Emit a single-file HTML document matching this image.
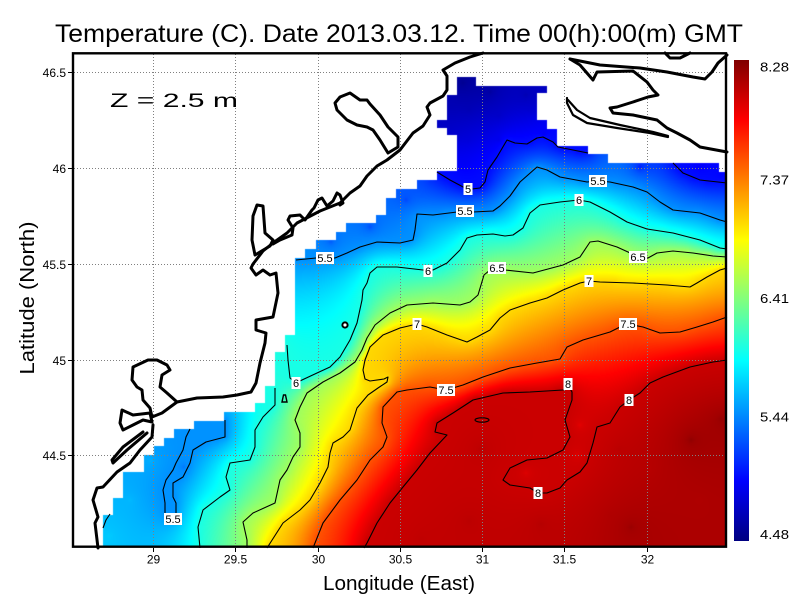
<!DOCTYPE html>
<html><head><meta charset="utf-8">
<style>
html,body{margin:0;padding:0;background:#fff;}
#wrap{position:relative;width:800px;height:600px;overflow:hidden;background:#fff;}
#fb,#ov{position:absolute;left:0;top:0;}
#cv{position:absolute;left:73px;top:53px;}
</style></head><body>
<div id="wrap">
<svg id="fb" width="800" height="600" viewBox="0 0 800 600">
<defs><linearGradient id="fbg" gradientUnits="userSpaceOnUse" x1="300" y1="120" x2="650" y2="520">
<stop offset="0" stop-color="#0040ff"/><stop offset="0.3" stop-color="#00e0ff"/><stop offset="0.5" stop-color="#ffff00"/><stop offset="0.7" stop-color="#ff3000"/><stop offset="1" stop-color="#a00000"/></linearGradient></defs>
<polygon fill="url(#fbg)" points="457,77 476,77 476,86 547,86 547,93 537,93 537,120 547,120 547,129 557,129 557,146 588,146 588,154 608,154 608,163 719,163 719,172 726,172 726,547 103,547 103,515 113,515 113,498 123,498 123,472 144,472 144,455 154,455 154,446 164,446 164,438 174,438 174,429 194,429 194,421 224,421 224,412 255,412 255,403 265,403 265,386 275,386 275,352 285,352 285,335 295,335 295,258 305,258 305,249 316,249 316,240 336,240 336,232 346,232 346,223 376,223 376,215 386,215 386,198 396,198 396,189 417,189 417,180 437,180 437,171 457,171 457,135 447,135 447,128 437,128 437,120 447,120 447,95 457,95"/>
</svg>
<canvas id="cv" width="653" height="494"></canvas>
<svg id="ov" width="800" height="600" viewBox="0 0 800 600" style="font-family:'Liberation Sans',sans-serif">
<defs>
<linearGradient id="jet" x1="0" y1="1" x2="0" y2="0">
<stop offset="0" stop-color="rgb(0,0,128)"/>
<stop offset="0.125" stop-color="rgb(0,0,255)"/>
<stop offset="0.375" stop-color="rgb(0,255,255)"/>
<stop offset="0.625" stop-color="rgb(255,255,0)"/>
<stop offset="0.875" stop-color="rgb(255,0,0)"/>
<stop offset="1" stop-color="rgb(128,0,0)"/>
</linearGradient>
</defs>
<!-- grid -->
<g stroke="#808080" stroke-width="1" stroke-dasharray="1,2" fill="none">
<line x1="153.5" y1="54" x2="153.5" y2="546"/>
<line x1="235.5" y1="54" x2="235.5" y2="546"/>
<line x1="318.5" y1="54" x2="318.5" y2="546"/>
<line x1="400.5" y1="54" x2="400.5" y2="546"/>
<line x1="482.5" y1="54" x2="482.5" y2="546"/>
<line x1="564.5" y1="54" x2="564.5" y2="546"/>
<line x1="647.5" y1="54" x2="647.5" y2="546"/>
<line x1="74" y1="72.5" x2="725" y2="72.5"/>
<line x1="74" y1="168.5" x2="725" y2="168.5"/>
<line x1="74" y1="264.5" x2="725" y2="264.5"/>
<line x1="74" y1="360.5" x2="725" y2="360.5"/>
<line x1="74" y1="455.5" x2="725" y2="455.5"/>
</g>
<!-- contours -->
<g fill="none" stroke="#000" stroke-width="1.1" stroke-linejoin="round">
<g class="lev" id="lev_50">
<polyline points="437,172 450,180 465,188 472,189 480,188 485,182 488,170 497,157 507,140 515,143 527,144 537,138 543,137 553,142 558,147 573,150 588,153"/>
<polyline points="673,163 683,173 700,180 727,183"/>
</g>
<g class="lev" id="lev_55">
<polyline points="296,260 316,258 335,258 347,253 360,247 377,242 400,243 413,240 415,230 417,214 433,215 457,212 465,211 473,212 493,211 500,206 510,196 520,182 537,167 547,170 560,177 587,182 598,181 610,182 633,187 647,192 660,202 673,210 700,213 720,220 727,222"/>
<polyline points="190,429 186,437 183,450 176,463 173,470 166,480 163,490 165,503 165,513 170,519 176,513 176,503 173,497 173,483 183,477 190,463 193,450 206,442 225,437 225,420"/>
</g>
<g class="lev" id="lev_60">
<polyline points="287,345 288,360 290,378 296,383 302,380 317,373 330,367 340,357 350,340 357,323 362,300 363,290 367,283 370,273 377,267 397,267 423,270 433,270 447,263 460,250 467,238 477,235 493,234 505,236 513,235 523,228 530,213 540,205 560,202 579,200 590,202 610,212 627,222 647,229 673,233 700,240 720,248 727,249"/>
<polyline points="275,388 275,405 263,417 255,430 255,447 250,460 230,463 226,477 230,490 220,497 203,510 198,527 200,548"/>
</g>
<g class="lev" id="lev_65">
<polyline points="247,548 247,540 243,522 253,513 275,503 280,480 287,470 293,457 300,447 300,433 295,420 300,407 307,393 323,382 340,373 355,362 362,350 367,338 375,325 390,313 407,305 433,303 460,305 470,302 478,295 481,285 484,275 490,270 505,270 533,273 563,265 580,257 590,242 598,241 617,247 628,252 638,257 648,258 657,253 673,251 693,253 713,256 727,257"/>
</g>
<g class="lev" id="lev_70">
<polyline points="267,548 283,523 300,510 310,500 320,483 328,467 330,453 333,443 343,437 350,430 357,408 368,395 378,388 387,382 388,377 384,379 370,381 365,379 363,370 365,360 370,347 383,335 400,328 417,324 427,327 447,335 467,342 477,337 490,330 500,318 510,310 530,303 547,298 563,290 580,283 589,281 600,282 633,283 667,285 690,287 697,283 707,277 720,270 727,268"/>
</g>
<g class="lev" id="lev_75">
<polyline points="313,548 323,523 340,500 357,480 370,460 383,447 387,437 382,423 383,407 397,392 407,390 430,387 446,390 463,385 483,377 510,368 537,363 560,359 567,347 583,340 610,332 620,327 628,324 643,327 660,333 680,332 697,327 713,322 727,317"/>
</g>
<g class="lev" id="lev_80">
<polyline points="364,548 367,543 377,523 390,503 403,487 417,470 430,453 447,435 435,432 437,423 453,413 473,400 503,393 530,392 563,390 568,385 572,392 572,400 565,420 570,437 563,450 547,458 527,460 510,468 503,480 510,485 530,488 538,493 547,493 560,488 567,480 580,472 587,463 593,443 597,427 610,423 620,407 629,400 640,393 650,383 663,377 690,367 713,362 727,360"/>
</g>
<polyline points="103,528 106,520 110,514"/>
<ellipse cx="482" cy="420" rx="7" ry="2.2"/>
</g>
<!-- coastlines -->
<g fill="none" stroke="#000" stroke-width="3" stroke-linejoin="round" stroke-linecap="round">
<polyline points="483,53 470,57 455,63 443,70 447,76 447,90 443,96 430,103 427,107 430,115 423,126 413,133 400,150 387,160 377,166 367,176 360,186 350,193 340,203 320,211 297,223 287,233 273,243 263,251 253,264 251,268 256,275 263,270 270,275 276,273 278,293 273,317 256,320 256,330 266,333 265,343 260,363 256,383 251,392 237,395 223,397 197,398 177,402"/>
<polyline points="273,244 280,240 292,235 293,228 288,220 290,216 300,215 305,220 312,210 314,208 318,200 322,198 327,206 333,201 337,193 340,195 343,203 340,205"/>
<polygon points="257,205 263,206 265,233 273,240 270,246 255,255 252,240 253,216"/>
<polygon points="335,103 340,97 350,93 360,100 367,100 370,104 380,115 388,127 398,137 398,147 388,153 380,140 373,130 367,127 357,125 347,120 337,110"/>
<polyline points="177,402 167,393 160,387 162,375 170,370 167,365 157,360 148,360 133,367 132,380 137,387 142,390 143,400 150,408 152,417 162,413 177,402"/>
<polygon points="122,410 120,423 123,430 133,425 143,420 152,422 150,413 133,415"/>
<polyline points="147,433 127,450 113,463 112,460 123,447 143,432"/>
<polyline points="153,425 152,437 140,450 130,463 117,472 103,487 97,488 93,500 98,517 95,523 98,548"/>
<polyline points="570,59 580,65 593,80 597,72 633,71 647,82 653,90 658,95 648,97 633,102 617,107 610,108 613,113 633,115 657,120 667,128 677,133 690,140 700,147 727,152"/>
<polyline points="570,59 600,65 640,68 667,72 693,77 705,79 712,72 718,63 727,55"/>
<polyline points="665,53 670,58 680,58 690,53"/>
<polyline stroke-width="2.2" points="567,98 567,103 573,115 587,123 617,128 650,133 668,137"/>
<polyline stroke-width="2.2" points="568,100 577,110 590,118 620,125 653,132 668,136"/>
</g>
<circle cx="345" cy="325" r="2.6" fill="#fff" stroke="#000" stroke-width="2"/>
<polygon points="282,402 283.5,395 285.5,395 287,402" fill="none" stroke="#000" stroke-width="1.4"/>
<!-- contour labels -->
<g font-size="11" text-anchor="middle" fill="#000">
<rect x="463.5" y="183" width="9" height="12" fill="#fff"/><text x="468" y="193">5</text>
<rect x="456" y="205" width="18" height="12" fill="#fff"/><text x="465" y="215">5.5</text>
<rect x="589" y="175" width="18" height="12" fill="#fff"/><text x="598" y="185">5.5</text>
<rect x="316" y="252" width="18" height="12" fill="#fff"/><text x="325" y="262">5.5</text>
<rect x="574.5" y="194" width="9" height="12" fill="#fff"/><text x="579" y="204">6</text>
<rect x="423.5" y="265" width="9" height="12" fill="#fff"/><text x="428" y="275">6</text>
<rect x="488" y="262" width="18" height="12" fill="#fff"/><text x="497" y="272">6.5</text>
<rect x="629" y="251" width="18" height="12" fill="#fff"/><text x="638" y="261">6.5</text>
<rect x="584.5" y="275" width="9" height="12" fill="#fff"/><text x="589" y="285">7</text>
<rect x="412.5" y="318" width="9" height="12" fill="#fff"/><text x="417" y="328">7</text>
<rect x="619" y="318" width="18" height="12" fill="#fff"/><text x="628" y="328">7.5</text>
<rect x="437" y="384" width="18" height="12" fill="#fff"/><text x="446" y="394">7.5</text>
<rect x="563.5" y="378" width="9" height="12" fill="#fff"/><text x="568" y="388">8</text>
<rect x="624.5" y="394" width="9" height="12" fill="#fff"/><text x="629" y="404">8</text>
<rect x="533.5" y="487" width="9" height="12" fill="#fff"/><text x="538" y="497">8</text>
<rect x="291.5" y="377" width="9" height="12" fill="#fff"/><text x="296" y="387">6</text>
<rect x="164" y="513" width="18" height="12" fill="#fff"/><text x="173" y="523">5.5</text>
</g>
<!-- frame -->
<rect x="73" y="53.3" width="653" height="493.4" fill="none" stroke="#000" stroke-width="2.4"/>
<!-- ticks -->
<g stroke="#000" stroke-width="1">
<line x1="68" y1="72.5" x2="72" y2="72.5"/>
<line x1="68" y1="168.5" x2="72" y2="168.5"/>
<line x1="68" y1="264.5" x2="72" y2="264.5"/>
<line x1="68" y1="360.5" x2="72" y2="360.5"/>
<line x1="68" y1="455.5" x2="72" y2="455.5"/>
<line x1="153.5" y1="548" x2="153.5" y2="552"/>
<line x1="235.5" y1="548" x2="235.5" y2="552"/>
<line x1="318.5" y1="548" x2="318.5" y2="552"/>
<line x1="400.5" y1="548" x2="400.5" y2="552"/>
<line x1="482.5" y1="548" x2="482.5" y2="552"/>
<line x1="564.5" y1="548" x2="564.5" y2="552"/>
<line x1="647.5" y1="548" x2="647.5" y2="552"/>
</g>
<g font-size="12" fill="#000" text-anchor="end">
<text x="66" y="77">46.5</text>
<text x="66" y="173">46</text>
<text x="66" y="269">45.5</text>
<text x="66" y="365">45</text>
<text x="66" y="460">44.5</text>
</g>
<g font-size="12" fill="#000" text-anchor="middle">
<text x="153.5" y="563.5">29</text>
<text x="235.5" y="563.5">29.5</text>
<text x="318.5" y="563.5">30</text>
<text x="400.5" y="563.5">30.5</text>
<text x="482.5" y="563.5">31</text>
<text x="564.5" y="563.5">31.5</text>
<text x="647.5" y="563.5">32</text>
</g>
<!-- colorbar -->
<rect x="734" y="60" width="15" height="481" fill="url(#jet)"/>
<g font-size="13" fill="#000">
<text x="760" y="71.5" textLength="29" lengthAdjust="spacingAndGlyphs">8.28</text>
<text x="760" y="184.5" textLength="29" lengthAdjust="spacingAndGlyphs">7.37</text>
<text x="760" y="303" textLength="29" lengthAdjust="spacingAndGlyphs">6.41</text>
<text x="760" y="421.5" textLength="29" lengthAdjust="spacingAndGlyphs">5.44</text>
<text x="760" y="539" textLength="29" lengthAdjust="spacingAndGlyphs">4.48</text>
</g>
<!-- titles -->
<text x="55" y="42" font-size="25" fill="#000" textLength="688" lengthAdjust="spacingAndGlyphs">Temperature (C). Date 2013.03.12. Time 00(h):00(m) GMT</text>
<text x="110" y="107" font-size="19" fill="#000" textLength="128" lengthAdjust="spacingAndGlyphs">Z = 2.5 m</text>
<text x="323" y="590" font-size="20" fill="#000" textLength="152" lengthAdjust="spacingAndGlyphs">Longitude (East)</text>
<text transform="translate(34,298) rotate(-90)" text-anchor="middle" font-size="20" fill="#000" textLength="153" lengthAdjust="spacingAndGlyphs">Latitude (North)</text>
</svg>
</div>
<script>
(function(){
var X0=73,Y0=53,W=653,H=494;
var DATA=[[457,77],[476,77],[476,86],[547,86],[547,93],[537,93],[537,120],[547,120],[547,129],[557,129],[557,146],[588,146],[588,154],[608,154],[608,163],[719,163],[719,172],[726,172],[726,547],[103,547],[103,515],[113,515],[113,498],[123,498],[123,472],[144,472],[144,455],[154,455],[154,446],[164,446],[164,438],[174,438],[174,429],[194,429],[194,421],[224,421],[224,412],[255,412],[255,403],[265,403],[265,386],[275,386],[275,352],[285,352],[285,335],[295,335],[295,258],[305,258],[305,249],[316,249],[316,240],[336,240],[336,232],[346,232],[346,223],[376,223],[376,215],[386,215],[386,198],[396,198],[396,189],[417,189],[417,180],[437,180],[437,171],[457,171],[457,135],[447,135],[447,128],[437,128],[437,120],[447,120],[447,95],[457,95]];
function inPoly(x,y){var c=false;for(var i=0,j=DATA.length-1;i<DATA.length;j=i++){var xi=DATA[i][0],yi=DATA[i][1],xj=DATA[j][0],yj=DATA[j][1];if(((yi>y)!=(yj>y))&&(x<(xj-xi)*(y-yi)/(yj-yi)+xi))c=!c;}return c;}
var lines=[];
var gs=document.querySelectorAll('g.lev');
for(var gi=0;gi<gs.length;gi++){var g=gs[gi];var L=parseInt(g.id.slice(4),10)/10;var ps=g.querySelectorAll('polyline');
 for(var pi=0;pi<ps.length;pi++){var a=ps[pi].getAttribute('points').trim().split(/[\s,]+/).map(Number);var pts=[];for(var q=0;q+1<a.length;q+=2)pts.push([a[q],a[q+1]]);lines.push({L:L,pts:pts});}}
var HINTS=[[462,82,4.55],[490,92,4.6],[525,95,4.68],[450,108,4.68],[470,110,4.68],[500,115,4.75],[530,110,4.78],[470,140,4.82],[500,140,4.88],[465,163,4.92],[545,135,4.92],[640,166,5.05],[700,168,4.93],[720,176,4.96],[330,243,5.3],[370,228,5.25],[405,200,5.22],[430,183,5.15],[110,535,5.72],[130,500,5.65],[150,460,5.62],[183,466,5.4],[480,450,8.06],[470,520,8.06],[540,525,8.08],[610,515,8.1],[630,528,8.18],[690,440,8.22],[700,500,8.1],[650,470,8.07],[420,540,8.04],[680,400,8.06],[620,450,8.06],[720,420,8.2],[580,425,7.9],[578,455,7.92],[525,474,7.92]];
function solve(cs,iters,prev){
 var nx=Math.ceil(W/cs)+1,ny=Math.ceil(H/cs)+1,n=nx*ny;
 var mask=new Uint8Array(n),fix=new Uint8Array(n),v=new Float32Array(n);
 var h=cs*0.7,i,j,k;
 for(j=0;j<ny;j++)for(i=0;i<nx;i++){var x=X0+i*cs,y=Y0+j*cs;k=j*nx+i;
  if(inPoly(x,y)||inPoly(x-h,y-h)||inPoly(x+h,y-h)||inPoly(x-h,y+h)||inPoly(x+h,y+h))mask[k]=1;
  v[k]=prev?prev(x,y):6.4;}
 function setp(x,y,val){var ii=Math.round((x-X0)/cs),jj=Math.round((y-Y0)/cs);if(ii<0||jj<0||ii>=nx||jj>=ny)return;var kk=jj*nx+ii;fix[kk]=1;mask[kk]=1;v[kk]=val;}
 for(var li=0;li<lines.length;li++){var p=lines[li].pts,Lv=lines[li].L;
  for(var s=0;s<p.length-1;s++){var x1=p[s][0],y1=p[s][1],x2=p[s+1][0],y2=p[s+1][1];var len=Math.hypot(x2-x1,y2-y1);var st=Math.max(1,Math.ceil(len/(cs*0.5)));
   for(var t=0;t<=st;t++)setp(x1+(x2-x1)*t/st,y1+(y2-y1)*t/st,Lv);}}
 for(var hi=0;hi<HINTS.length;hi++)setp(HINTS[hi][0],HINTS[hi][1],HINTS[hi][2]);
 var w=cs>5?1.85:1.9;
 for(var it=0;it<iters;it++){
  for(j=0;j<ny;j++){var r=j*nx;for(i=0;i<nx;i++){k=r+i;if(!mask[k]||fix[k])continue;var sm=0,c=0;
   if(i>0&&mask[k-1]){sm+=v[k-1];c++;}
   if(i<nx-1&&mask[k+1]){sm+=v[k+1];c++;}
   if(j>0&&mask[k-nx]){sm+=v[k-nx];c++;}
   if(j<ny-1&&mask[k+nx]){sm+=v[k+nx];c++;}
   if(c)v[k]+=w*(sm/c-v[k]);}}
 }
 var filled=mask.slice();
 for(var pass=0;pass<10;pass++){var nf=filled.slice();
  for(j=0;j<ny;j++)for(i=0;i<nx;i++){k=j*nx+i;if(filled[k])continue;var s2=0,c2=0;
   if(i>0&&filled[k-1]){s2+=v[k-1];c2++;}
   if(i<nx-1&&filled[k+1]){s2+=v[k+1];c2++;}
   if(j>0&&filled[k-nx]){s2+=v[k-nx];c2++;}
   if(j<ny-1&&filled[k+nx]){s2+=v[k+nx];c2++;}
   if(c2){v[k]=s2/c2;nf[k]=1;}}
  filled=nf;}
 return function(x,y){var fx=(x-X0)/cs,fy=(y-Y0)/cs;var ii=Math.floor(fx),jj=Math.floor(fy);
  if(ii<0)ii=0;if(jj<0)jj=0;if(ii>nx-2)ii=nx-2;if(jj>ny-2)jj=ny-2;
  var tx=fx-ii,ty=fy-jj;if(tx<0)tx=0;if(tx>1)tx=1;if(ty<0)ty=0;if(ty>1)ty=1;var kk=jj*nx+ii;
  return v[kk]*(1-tx)*(1-ty)+v[kk+1]*tx*(1-ty)+v[kk+nx]*(1-tx)*ty+v[kk+nx+1]*tx*ty;};
}
var s1=solve(9,900,null);
var s2=solve(3,600,s1);
var cv=document.getElementById('cv');var ctx=cv.getContext('2d');
var img=ctx.createImageData(W,H);var d=img.data;
for(var py=0;py<H;py++){for(var px=0;px<W;px++){
 var T=s2(X0+px+0.5,Y0+py+0.5);var vv=(T-4.48)/3.8;if(vv<0)vv=0;if(vv>1)vv=1;var f=4*vv;
 var rr=1.5-Math.abs(f-3),gg=1.5-Math.abs(f-2),bb=1.5-Math.abs(f-1);
 rr=rr<0?0:rr>1?1:rr;gg=gg<0?0:gg>1?1:gg;bb=bb<0?0:bb>1?1:bb;
 var o=(py*W+px)*4;d[o]=rr*255|0;d[o+1]=gg*255|0;d[o+2]=bb*255|0;d[o+3]=255;}}
ctx.putImageData(img,0,0);
ctx.globalCompositeOperation='destination-in';
ctx.beginPath();
for(var q=0;q<DATA.length;q++){var X=DATA[q][0]-X0,Y=DATA[q][1]-Y0;if(q)ctx.lineTo(X,Y);else ctx.moveTo(X,Y);}
ctx.closePath();ctx.fillStyle='#000';ctx.fill();
document.getElementById('fb').style.display='none';
})();
</script>
</body></html>
